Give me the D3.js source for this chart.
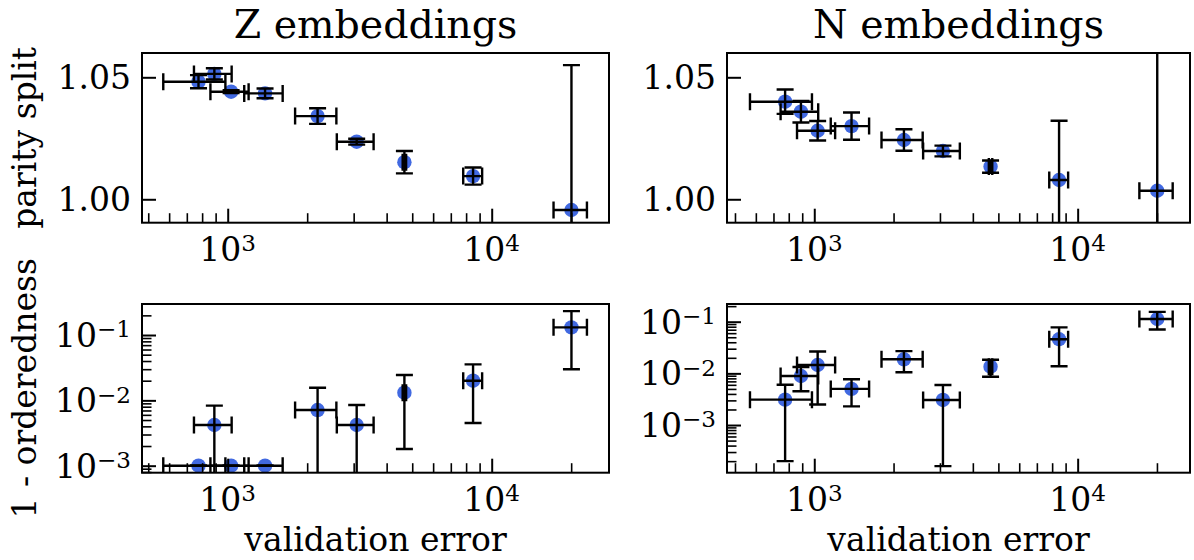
<!DOCTYPE html>
<html>
<head>
<meta charset="utf-8">
<script src="https://cdn.jsdelivr.net/npm/d3@7"></script>
<style>
  body { margin: 0; background: #fff; }
  svg { display: block; }
</style>
</head>
<body>
<svg id="fig" width="1194" height="560"></svg>
<script>
// Validation error of each trained model and its spread (same models for both embeddings)
const valError    = [775, 890, 1030, 1385, 2190, 3080, 4670, 8500, 20050];
const valErrorStd = [205, 145, 170, 230, 390, 490, 70, 700, 2900];

// Parity split of the Z and N embeddings
const zParity    = [1.0482, 1.0514, 1.0441, 1.0434, 1.0341, 1.0236, 1.0152, 1.0095, 0.9956];
const zParityErr = [0.0027, 0.0023, 0.0006, 0.0020, 0.0032, 0.0012, 0.0046, 0.0035, 0.0594];
const nParity    = [1.0400, 1.0359, 1.0281, 1.0300, 1.0243, 1.0198, 1.0134, 1.0079, 1.0035];
const nParityErr = [0.0050, 0.0044, 0.0040, 0.0056, 0.0044, 0.0022, 0.0025, 0.0243, 0.0800];

// 1 - orderedness of the Z and N embeddings
const zDisorder    = [0.0010, 0.0042, 0.0010, 0.0010, 0.0071, 0.0042, 0.0131, 0.0200, 0.131];
const zDisorderErr = [0, 0.0041, 0, 0, 0.0085, 0.0043, 0.0113, 0.0155, 0.101];
const nDisorder    = [0.0031, 0.0089, 0.0145, 0.0050, 0.0187, 0.00306, 0.0135, 0.0457, 0.1128];
const nDisorderErr = [0.0029, 0.0044, 0.0120, 0.0027, 0.0082, 0.0029, 0.0049, 0.0320, 0.0420];

// Text
const columnTitles = ["Z embeddings", "N embeddings"];
const rowLabels = ["parity split", "1 - orderedness"];
const xLabel = "validation error";
const parityTicks = [1.00, 1.05];
const xMajorTicks = [1e3, 1e4];
const disorderTicks = [1e-1, 1e-2, 1e-3];

const svg = d3.select("#fig");
const SERIF = "'DejaVu Serif', serif";
const DOT = "#4169e1";
const TICK_FS = 33, LABEL_FS = 33, TITLE_FS = 39.5;

// Panel geometry and axis limits
const cols = [
  { x0: 142, x1: 609, xDomain: [473.5, 27820] },
  { x0: 727, x1: 1190, xDomain: [466.3, 26700] }
];
const rows = [
  { y0: 53, y1: 222.7 },
  { y0: 304, y1: 472.7 }
];

const panels = [
  { c: 0, r: 0, log: false, yDomain: [0.9904, 1.05996], v: zParity, e: zParityErr, ticks: parityTicks },
  { c: 1, r: 0, log: false, yDomain: [0.9904, 1.05996], v: nParity, e: nParityErr, ticks: parityTicks },
  { c: 0, r: 1, log: true,  yDomain: [7.81e-4, 0.2984], v: zDisorder, e: zDisorderErr, ticks: disorderTicks },
  { c: 1, r: 1, log: true,  yDomain: [1.195e-4, 0.220], v: nDisorder, e: nDisorderErr, ticks: disorderTicks }
];

const MAJ = 14, MIN = 9.5, CAP = 8.5;

// "10" with a raised exponent, as a power-of-ten tick label
function powerLabel(sel, exp, anchor) {
  sel.attr("font-family", SERIF).attr("font-size", TICK_FS).attr("text-anchor", anchor).attr("fill", "#000");
  sel.append("tspan").text("10");
  sel.append("tspan").attr("dy", "-0.42em").attr("font-size", TICK_FS * 0.7).text(exp);
}

const isDecade = t => Math.abs(Math.log10(t) - Math.round(Math.log10(t))) < 1e-9;

panels.forEach((p, i) => {
  const C = cols[p.c], R = rows[p.r];
  const x = d3.scaleLog().domain(C.xDomain).range([C.x0, C.x1]);
  const y = (p.log ? d3.scaleLog() : d3.scaleLinear()).domain(p.yDomain).range([R.y1, R.y0]);
  const g = svg.append("g");

  const clipId = "clip" + i;
  svg.append("clipPath").attr("id", clipId)
    .append("rect").attr("x", C.x0).attr("y", R.y0)
    .attr("width", C.x1 - C.x0).attr("height", R.y1 - R.y0);

  const data = valError.map((xv, k) => ({ xv, xe: valErrorStd[k], yv: p.v[k], ye: p.e[k] }));
  const plot = g.append("g").attr("clip-path", `url(#${clipId})`);

  // markers
  plot.selectAll("circle").data(data).enter().append("circle")
    .attr("cx", d => x(d.xv)).attr("cy", d => y(d.yv)).attr("r", 7.2)
    .attr("fill", DOT);

  // error bars (a non-positive lower end on a log axis runs off the bottom)
  const yPos = v => (p.log && v <= 0) ? R.y1 + 200 : y(v);
  const eb = plot.append("g").attr("stroke", "#000").attr("stroke-width", 2.4).attr("fill", "none");
  data.forEach(d => {
    const cx = x(d.xv), cy = y(d.yv);
    const xl = x(d.xv - d.xe), xr = x(d.xv + d.xe);
    const yt = yPos(d.yv + d.ye), yb = yPos(d.yv - d.ye);
    eb.append("line").attr("x1", xl).attr("x2", xr).attr("y1", cy).attr("y2", cy);
    eb.append("line").attr("x1", xl).attr("x2", xl).attr("y1", cy - CAP).attr("y2", cy + CAP);
    eb.append("line").attr("x1", xr).attr("x2", xr).attr("y1", cy - CAP).attr("y2", cy + CAP);
    eb.append("line").attr("x1", cx).attr("x2", cx).attr("y1", yt).attr("y2", yb);
    eb.append("line").attr("x1", cx - CAP).attr("x2", cx + CAP).attr("y1", yt).attr("y2", yt);
    eb.append("line").attr("x1", cx - CAP).attr("x2", cx + CAP).attr("y1", yb).attr("y2", yb);
  });

  // x ticks (inward, bottom)
  const xMinor = x.ticks().filter(t => !isDecade(t));
  const gxMin = g.append("g").attr("transform", `translate(0,${R.y1})`)
    .call(d3.axisBottom(x).tickValues(xMinor).tickSize(-MIN).tickFormat(""));
  const gxMaj = g.append("g").attr("transform", `translate(0,${R.y1})`)
    .call(d3.axisBottom(x).tickValues(xMajorTicks).tickSize(-MAJ).tickFormat(""));
  gxMin.selectAll("line").attr("stroke-width", 1.6);
  gxMaj.selectAll("line").attr("stroke-width", 2);
  [gxMin, gxMaj].forEach(a => a.select(".domain").remove());

  xMajorTicks.forEach(t => {
    powerLabel(g.append("text").attr("x", x(t)).attr("y", R.y1 + 38), String(Math.round(Math.log10(t))), "middle");
  });

  // y ticks (inward, left)
  const gyMaj = g.append("g").attr("transform", `translate(${C.x0},0)`)
    .call(d3.axisLeft(y).tickValues(p.ticks).tickSize(-MAJ).tickFormat(""));
  gyMaj.selectAll("line").attr("stroke-width", 2);
  gyMaj.select(".domain").remove();
  if (p.log) {
    const yMinor = y.ticks().filter(t => !isDecade(t));
    const gyMin = g.append("g").attr("transform", `translate(${C.x0},0)`)
      .call(d3.axisLeft(y).tickValues(yMinor).tickSize(-MIN).tickFormat(""));
    gyMin.selectAll("line").attr("stroke-width", 1.6);
    gyMin.select(".domain").remove();
    p.ticks.forEach(t => {
      powerLabel(g.append("text").attr("x", C.x0 - 11).attr("y", y(t) + 12),
        "\u2212" + String(Math.round(-Math.log10(t))), "end");
    });
  } else {
    const fmt = d3.format(".2f");
    p.ticks.forEach(t => {
      g.append("text").attr("x", C.x0 - 11).attr("y", y(t) + 12)
        .attr("text-anchor", "end").attr("font-family", SERIF).attr("font-size", TICK_FS)
        .text(fmt(t));
    });
  }

  // frame
  g.append("rect").attr("x", C.x0).attr("y", R.y0)
    .attr("width", C.x1 - C.x0).attr("height", R.y1 - R.y0)
    .attr("fill", "none").attr("stroke", "#000").attr("stroke-width", 2);

  if (p.r === 0) {
    g.append("text").attr("x", (C.x0 + C.x1) / 2).attr("y", 38)
      .attr("text-anchor", "middle").attr("font-family", SERIF).attr("font-size", TITLE_FS)
      .text(columnTitles[p.c]);
  } else {
    g.append("text").attr("x", (C.x0 + C.x1) / 2).attr("y", 551)
      .attr("text-anchor", "middle").attr("font-family", SERIF).attr("font-size", LABEL_FS)
      .text(xLabel);
  }
  if (p.c === 0) {
    const cy = (R.y0 + R.y1) / 2;
    g.append("text").attr("transform", `translate(36,${cy}) rotate(-90)`)
      .attr("text-anchor", "middle").attr("font-family", SERIF).attr("font-size", LABEL_FS)
      .text(rowLabels[p.r]);
  }
});
</script>
</body>
</html>
